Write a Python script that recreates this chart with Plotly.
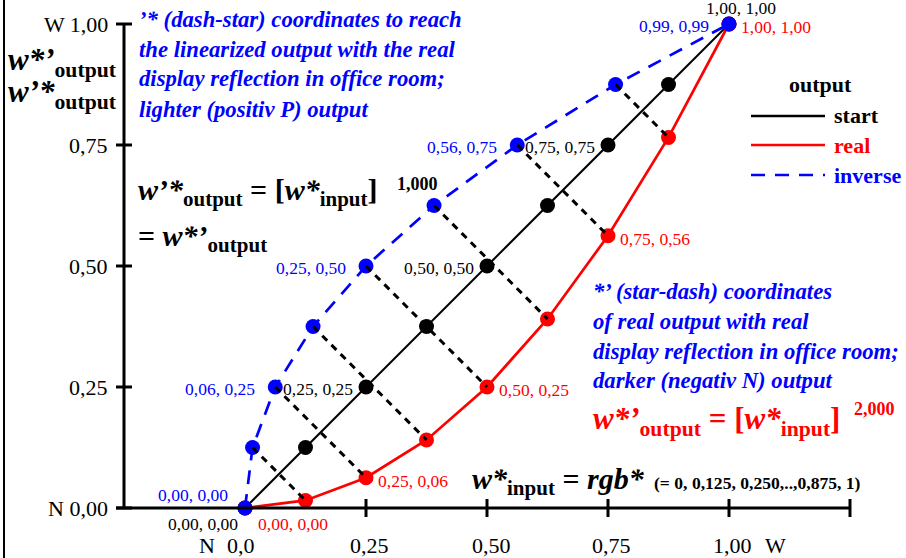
import plotly.graph_objects as go

# ---------------- data ----------------
w_input = [0.0, 0.125, 0.25, 0.375, 0.5, 0.625, 0.75, 0.875, 1.0]
start_out = [0.0, 0.125, 0.25, 0.375, 0.5, 0.625, 0.75, 0.875, 1.0]
real_out = [0.0, 0.0156, 0.0625, 0.1406, 0.25, 0.3906, 0.5625, 0.7656, 1.0]
inverse_x = [0.0, 0.0156, 0.0625, 0.1406, 0.25, 0.3906, 0.5625, 0.7656, 1.0]
inverse_out = [0.0, 0.125, 0.25, 0.375, 0.5, 0.625, 0.75, 0.875, 1.0]

x_ticks = [0.25, 0.5, 0.75, 1.0, 1.25]
x_tick_labels = ["0,0", "0,25", "0,50", "0,75", "1,00"]
x_label_vals = [0.0, 0.25, 0.5, 0.75, 1.0]
y_ticks = [0.0, 0.25, 0.5, 0.75, 1.0]
y_tick_labels = ["N 0,00", "0,25", "0,50", "0,75", "W 1,00"]

# point labels: (series, index, text, side)
point_labels = [
    ("start", 8, "1,00, 1,00", "top"),
    ("inverse", 8, "0,99, 0,99", "left"),
    ("real", 8, "1,00, 1,00", "right"),
    ("inverse", 6, "0,56, 0,75", "left"),
    ("start", 6, "0,75, 0,75", "left"),
    ("real", 6, "0,75, 0,56", "right"),
    ("inverse", 4, "0,25, 0,50", "left"),
    ("start", 4, "0,50, 0,50", "left"),
    ("real", 4, "0,50, 0,25", "right"),
    ("inverse", 2, "0,06, 0,25", "left"),
    ("start", 2, "0,25, 0,25", "left"),
    ("real", 2, "0,25, 0,06", "right"),
    ("inverse", 0, "0,00, 0,00", "upleft"),
    ("start", 0, "0,00, 0,00", "downleft"),
    ("real", 0, "0,00, 0,00", "downright"),
]

FONT = "Liberation Serif"
W, H = 906, 558
BLUE = "#0000ff"
RED = "#ff0000"

series_xy = {
    "start": (w_input, start_out, "black"),
    "real": (w_input, real_out, RED),
    "inverse": (inverse_x, inverse_out, BLUE),
}

fig = go.Figure()

fig.add_trace(go.Scatter(x=w_input, y=start_out, mode="lines+markers",
                         line=dict(color="black", width=2),
                         marker=dict(color="black", size=15),
                         cliponaxis=False, showlegend=False, name="start"))
fig.add_trace(go.Scatter(x=w_input, y=real_out, mode="lines+markers",
                         line=dict(color=RED, width=2.7),
                         marker=dict(color=RED, size=15),
                         cliponaxis=False, showlegend=False, name="real"))
fig.add_trace(go.Scatter(x=inverse_x, y=inverse_out, mode="lines+markers",
                         line=dict(color=BLUE, width=2.7, dash="14px,10px"),
                         marker=dict(color=BLUE, size=15),
                         cliponaxis=False, showlegend=False, name="inverse"))

# black dashed connectors from inverse point to real point
dx, dy = [], []
for i in range(1, len(w_input) - 1):
    dx += [inverse_x[i], w_input[i], None]
    dy += [inverse_out[i], real_out[i], None]
fig.add_trace(go.Scatter(x=dx, y=dy, mode="lines",
                         line=dict(color="black", width=3, dash="7px,6px"),
                         cliponaxis=False, showlegend=False, hoverinfo="skip"))

# ---------------- axes (drawn as shapes in data coordinates) ----------------
PX = 1 / 484.0  # one pixel in data units
shapes = []
x0_axis = -0.25
shapes.append(dict(type="line", xref="x", yref="y", x0=x0_axis - 8 * PX, x1=1.25, y0=0, y1=0,
                   line=dict(color="black", width=3)))
shapes.append(dict(type="line", xref="x", yref="y", x0=x0_axis, x1=x0_axis, y0=0, y1=1.0,
                   line=dict(color="black", width=3)))
for t in y_ticks:
    shapes.append(dict(type="line", xref="x", yref="y", x0=x0_axis - 8 * PX, x1=x0_axis + 8 * PX,
                       y0=t, y1=t, line=dict(color="black", width=3)))
for t in x_ticks:
    shapes.append(dict(type="line", xref="x", yref="y", x0=t, x1=t,
                       y0=-9 * PX, y1=9 * PX, line=dict(color="black", width=3)))
# page border at left
shapes.append(dict(type="line", xref="paper", yref="paper", x0=4 / W, x1=4 / W, y0=0, y1=1,
                   line=dict(color="black", width=2)))

# legend lines
def px2x(p):
    return p / W

def py2y(p):
    return 1 - p / H

shapes.append(dict(type="line", xref="paper", yref="paper", x0=px2x(751), x1=px2x(825),
                   y0=py2y(116), y1=py2y(116), line=dict(color="black", width=2.5)))
shapes.append(dict(type="line", xref="paper", yref="paper", x0=px2x(751), x1=px2x(825),
                   y0=py2y(145), y1=py2y(145), line=dict(color=RED, width=2.5)))
shapes.append(dict(type="line", xref="paper", yref="paper", x0=px2x(751), x1=px2x(825),
                   y0=py2y(175), y1=py2y(175), line=dict(color=BLUE, width=2.7, dash="14px,10px")))

annotations = []

def add_px(px, py, text, size, color="black", xanchor="left", yanchor="middle"):
    annotations.append(dict(xref="paper", yref="paper", x=px2x(px), y=py2y(py), text=text,
                            showarrow=False, xanchor=xanchor, yanchor=yanchor,
                            font=dict(family=FONT, size=size, color=color)))

# y tick labels
for t, lab in zip(y_ticks, y_tick_labels):
    annotations.append(dict(xref="x", yref="y", x=x0_axis, y=t, text=lab, showarrow=False,
                            xanchor="right", yanchor="middle", xshift=-14,
                            font=dict(family=FONT, size=22, color="black")))
# x tick labels
x_label_shift = [-4, 3, 4, 3, 3]
for t, lab, sh in zip(x_label_vals, x_tick_labels, x_label_shift):
    annotations.append(dict(xref="x", yref="y", x=t, y=0, text=lab, showarrow=False,
                            xanchor="center", yanchor="middle", xshift=sh, yshift=-37,
                            borderpad=0,
                            font=dict(family=FONT, size=22, color="black")))
annotations.append(dict(xref="x", yref="y", x=0, y=0, text="N", showarrow=False,
                        xanchor="right", yanchor="middle", xshift=-29, yshift=-37, borderpad=0,
                        font=dict(family=FONT, size=22, color="black")))
annotations.append(dict(xref="x", yref="y", x=1.0, y=0, text="W", showarrow=False,
                        xanchor="left", yanchor="middle", xshift=35, yshift=-37, borderpad=0,
                        font=dict(family=FONT, size=22, color="black")))

# point labels
for series, idx, text, side in point_labels:
    xs, ys, col = series_xy[series]
    a = dict(xref="x", yref="y", x=xs[idx], y=ys[idx], text=text, showarrow=False,
             font=dict(family=FONT, size=17.5, color=col), yanchor="middle", borderpad=0)
    if side == "top":
        a.update(xanchor="center", xshift=12, yshift=16)
    elif side == "left":
        a.update(xanchor="right", xshift=-12 if series == "start" else -19, yshift=-2)
    elif side == "right":
        a.update(xanchor="left", xshift=11, yshift=-3)
    elif side == "upleft":
        a.update(xanchor="right", xshift=-16, yshift=13)
    elif side == "downleft":
        a.update(xanchor="right", xshift=-6, yshift=-16)
    elif side == "downright":
        a.update(xanchor="left", xshift=12, yshift=-16)
    annotations.append(a)

# y axis title
add_px(6, 62, "<b><i>w*’</i><sub>output</sub></b>", 31)
add_px(6, 94, "<b><i>w’*</i><sub>output</sub></b>", 31)

# blue explanatory texts
top_lines = ["’* (dash-star) coordinates to reach",
             "the linearized output with the real",
             "display reflection in office room;",
             "lighter (positiv P) output"]
for i, line in enumerate(top_lines):
    add_px(137, 19 + 30 * i, "<b><i>" + line + "</i></b>", 22.7, BLUE)

right_lines = ["*’ (star-dash) coordinates",
               "of real output with real",
               "display reflection in office room;",
               "darker (negativ N) output"]
for i, line in enumerate(right_lines):
    add_px(591, 291 + 30 * i, "<b><i>" + line + "</i></b>", 22.7, BLUE)

# formulas
add_px(136, 192, "<b><i>w’*</i><sub>output</sub> = [<i>w*</i><sub>input</sub>]</b>", 30)
add_px(395, 184, "<b>1,000</b>", 18)
add_px(136, 238, "<b>= <i>w*’</i><sub>output</sub></b>", 30)

add_px(591, 421, "<b><i>w*’</i><sub>output</sub> = [<i>w*</i><sub>input</sub>]</b>", 31, RED)
add_px(852, 409, "<b>2,000</b>", 18, RED)

add_px(470, 481, "<b><i>w*</i><sub>input</sub> = <i>rgb*</i></b>", 30)
add_px(652, 483, "<b>(= 0, 0,125, 0,250,..,0,875, 1)</b>", 17.6)

# legend texts
add_px(820, 85, "<b>output</b>", 22, "black", xanchor="center")
add_px(832, 116, "<b>start</b>", 22, "black")
add_px(832, 145, "<b>real</b>", 22, RED)
add_px(832, 175, "<b>inverse</b>", 22, BLUE)

# ---------------- layout ----------------
x_lo = -245 / 484.0
x_hi = (W - 245) / 484.0
y_hi = 508 / 484.0
y_lo = -(H - 508) / 484.0

fig.update_layout(
    width=W, height=H,
    margin=dict(l=0, r=0, t=0, b=0),
    paper_bgcolor="white", plot_bgcolor="white",
    xaxis=dict(range=[x_lo, x_hi], visible=False, fixedrange=True),
    yaxis=dict(range=[y_lo, y_hi], visible=False, fixedrange=True),
    shapes=shapes, annotations=annotations,
    font=dict(family=FONT),
)

fig.write_html("out.html", config={"displayModeBar": False},
               post_script="document.body.style.margin='0px';document.body.style.overflow='hidden';")
